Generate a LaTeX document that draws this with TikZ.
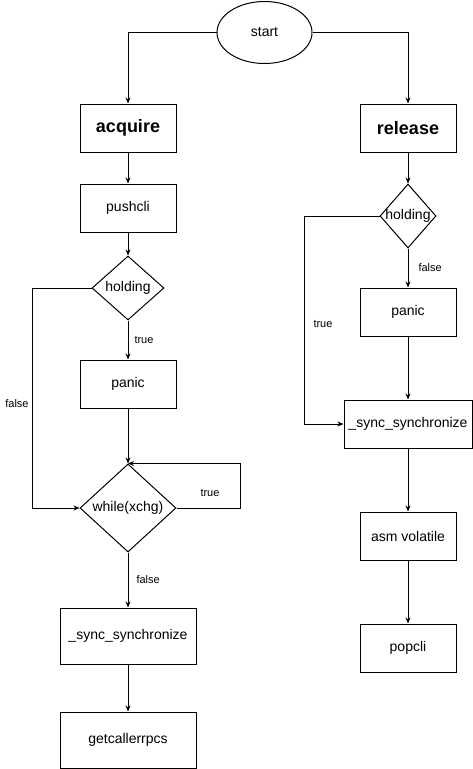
\documentclass[tikz,border=0pt]{standalone}
\usepackage{fontspec}
\setmainfont{Liberation Sans}
\usetikzlibrary{arrows.meta, positioning, shapes.geometric}
\tikzset{
    procBox/.style={rectangle, draw=black, line width=1pt, minimum width=96pt, minimum height=48pt, inner sep=0pt, font=\fontsize{14}{16}\selectfont},
    wideBox/.style={procBox, minimum width=136pt, minimum height=56pt},
    titleBox/.style={procBox, font=\fontsize{18}{20}\selectfont\bfseries},
    decNode/.style={diamond, draw=black, line width=1pt, inner sep=0pt, font=\fontsize{14}{16}\selectfont},
    edgeLabel/.style={font=\fontsize{11}{13}\selectfont, inner sep=0pt},
    flowLine/.style={->, line width=1pt}
}

\begin{document}
\begin{tikzpicture}[x=1pt, y=-1pt, >={Stealth[length=6pt, width=5pt]}]
    \useasboundingbox (0,0) rectangle (473,769);
    \node[ellipse, draw=black, line width=1pt, minimum width=95pt, minimum height=62pt, inner sep=0pt, font=\fontsize{14}{16}\selectfont] (start) at (264.5,32.5) {start};

    \node[titleBox] (acquire) at (128,128) {acquire};
    \node[procBox] (pushcli) at (128,208) {pushcli};
    \node[decNode, minimum width=72pt, minimum height=64pt] (lHold) at (128,288) {\makebox[0pt]{holding}};
    \node[procBox] (lPanic) at (128,384) {panic};
    \node[decNode, minimum width=96pt, minimum height=88pt] (lWhile) at (128,508) {\makebox[0pt]{while(xchg)}};
    \node[wideBox] (lSync) at (128,636) {\_sync\_synchronize};
    \node[wideBox] (lCaller) at (128,740) {getcallerrpcs};

    \node[titleBox] (release) at (408,128) {release};
    \node[decNode, minimum width=56pt, minimum height=64pt] (rHold) at (408,216) {\makebox[0pt]{holding}};
    \node[procBox] (rPanic) at (408,312) {panic};
    \node[procBox, minimum width=128pt] (rSync) at (408,424) {\_sync\_synchronize};
    \node[procBox] (rAsm) at (408,536) {asm volatile};
    \node[procBox] (rPop) at (408,648) {popcli};

    \coordinate (lFalseBend) at (32,288);
    \coordinate (lTrueBend) at (240,508);
    \coordinate (rTrueBend) at (304,216);

    \draw[flowLine] (start) -| (acquire);
    \draw[flowLine] (start) -| (release);
    \draw[flowLine] (acquire) -- (pushcli);
    \draw[flowLine] (pushcli) -- (lHold);
    \draw[flowLine] (lHold) -- node[edgeLabel, right=6pt] {true} (lPanic);
    \draw[flowLine] (lPanic) -- (lWhile);
    \draw[flowLine] (lHold.west) -- (lFalseBend) |- (lWhile.west);
    \node[edgeLabel] (lFalse) at (17,404) {false};
    \draw[flowLine] (lWhile.east) -- (lTrueBend) |- (lWhile.north);
    \node[edgeLabel] (lTrue) at (210,493) {true};
    \draw[flowLine] (lWhile) -- node[edgeLabel, right=8pt] {false} (lSync);
    \draw[flowLine] (lSync) -- (lCaller);

    \draw[flowLine] (release) -- (rHold);
    \draw[flowLine] (rHold) -- node[edgeLabel, right=10pt] {false} (rPanic);
    \draw[flowLine] (rHold.west) -- (rTrueBend) |- (rSync.west);
    \node[edgeLabel] (rTrue) at (323,324) {true};
    \draw[flowLine] (rPanic) -- (rSync);
    \draw[flowLine] (rSync) -- (rAsm);
    \draw[flowLine] (rAsm) -- (rPop);
\end{tikzpicture}
\end{document}
